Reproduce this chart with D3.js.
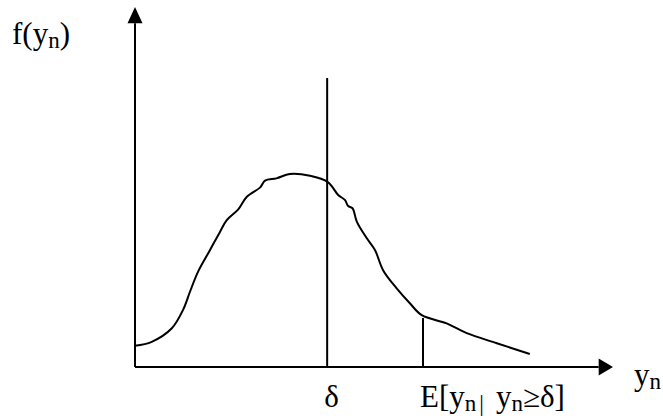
<!DOCTYPE html>
<html>
<head>
<meta charset="utf-8">
<script src="https://cdnjs.cloudflare.com/ajax/libs/d3/7.8.5/d3.min.js"></script>
<style>
  body { margin: 0; background: #fff; }
  text { font-family: "Liberation Serif", "Times New Roman", serif; fill: #000; }
</style>
</head>
<body>
<svg id="chart" width="663" height="418"></svg>
<script>
// density curve (x: 0-100 along y_n, y: 0-100 up f(y_n))
const curveX = [0, 3.5, 7.7, 10.1, 11.5, 13.2, 15.7, 17.8, 19.2, 21.6, 23.4, 26.2, 27.2, 29.6, 32.4, 36.6,
  40.4, 42.5, 43.9, 44.6, 45.5, 46.4, 48.5, 50.2, 51.9, 54.7, 57.5, 60.0, 65.2, 69.4, 75.7, 82.6];
const curveY = [5.9, 7.0, 10.75, 16.0, 20.9, 26.5, 32.5, 37.6, 40.8, 43.8, 47.3, 49.9, 51.75, 52.4, 53.6, 53.1,
  51.3, 47.8, 46.4, 44.7, 44.1, 40.4, 35.75, 32.5, 26.9, 21.9, 17.7, 14.4, 12.1, 9.4, 6.6, 3.6];

// vertical markers: delta and E[y_n | y_n >= delta]
const markerNames = ["delta", "mean"];
const markerX = [40.2, 60.25];
const markerTop = [80.3, 13.6];

const svg = d3.select("#chart");

const x = d3.scaleLinear().domain([0, 100]).range([135, 613]);
const y = d3.scaleLinear().domain([0, 100]).range([367, 7]);

// axes with arrow heads
svg.append("line")
  .attr("x1", x(0)).attr("y1", y(0))
  .attr("x2", x(0)).attr("y2", y(95.5))
  .attr("stroke", "#000").attr("stroke-width", 2);
svg.append("line")
  .attr("x1", x(0)).attr("y1", y(0))
  .attr("x2", x(97)).attr("y2", y(0))
  .attr("stroke", "#000").attr("stroke-width", 2);

svg.append("path")
  .attr("d", `M${x(0)},${y(100)} L${x(0) - 7.5},${y(95.5)} L${x(0) + 7.5},${y(95.5)} Z`)
  .attr("fill", "#000");
svg.append("path")
  .attr("d", `M${x(100)},${y(0)} L${x(97)},${y(0) - 8.5} L${x(97)},${y(0) + 8.5} Z`)
  .attr("fill", "#000");

// markers
svg.selectAll("line.marker")
  .data(markerNames)
  .join("line")
  .attr("class", "marker")
  .attr("x1", (d, i) => x(markerX[i])).attr("x2", (d, i) => x(markerX[i]))
  .attr("y1", y(0)).attr("y2", (d, i) => y(markerTop[i]))
  .attr("stroke", "#000").attr("stroke-width", 2);

// curve
const pts = curveX.map((v, i) => [v, curveY[i]]);
svg.append("path")
  .datum(pts)
  .attr("d", d3.line().x(d => x(d[0])).y(d => y(d[1])).curve(d3.curveCatmullRom))
  .attr("fill", "none")
  .attr("stroke", "#000")
  .attr("stroke-width", 2);

// labels; parts are [text, isSub, dx]
const fs = 31, sub = 23;
function label(xp, yp, parts, anchor) {
  const t = svg.append("text").attr("x", xp).attr("y", yp)
    .attr("font-size", fs).attr("text-anchor", anchor || "start");
  let down = false;
  parts.forEach(p => {
    const s = t.append("tspan")
      .attr("font-size", p[1] ? sub : fs)
      .attr("dx", p[2] || 0)
      .text(p[0]);
    if (p[1] !== down) s.attr("dy", p[1] ? 4 : -4);
    down = p[1];
  });
}
label(12, 44, [["f(y", false], ["n", true], [")", false]]);
label(634, 385, [["y", false], ["n", true]]);
label(331.5, 406.5, [["δ", false]], "middle");
label(420, 406.5, [["E[y", false], ["n", true], ["|", true, 3], ["y", false, 12], ["n", true], ["≥δ]", false]]);
</script>
</body>
</html>
